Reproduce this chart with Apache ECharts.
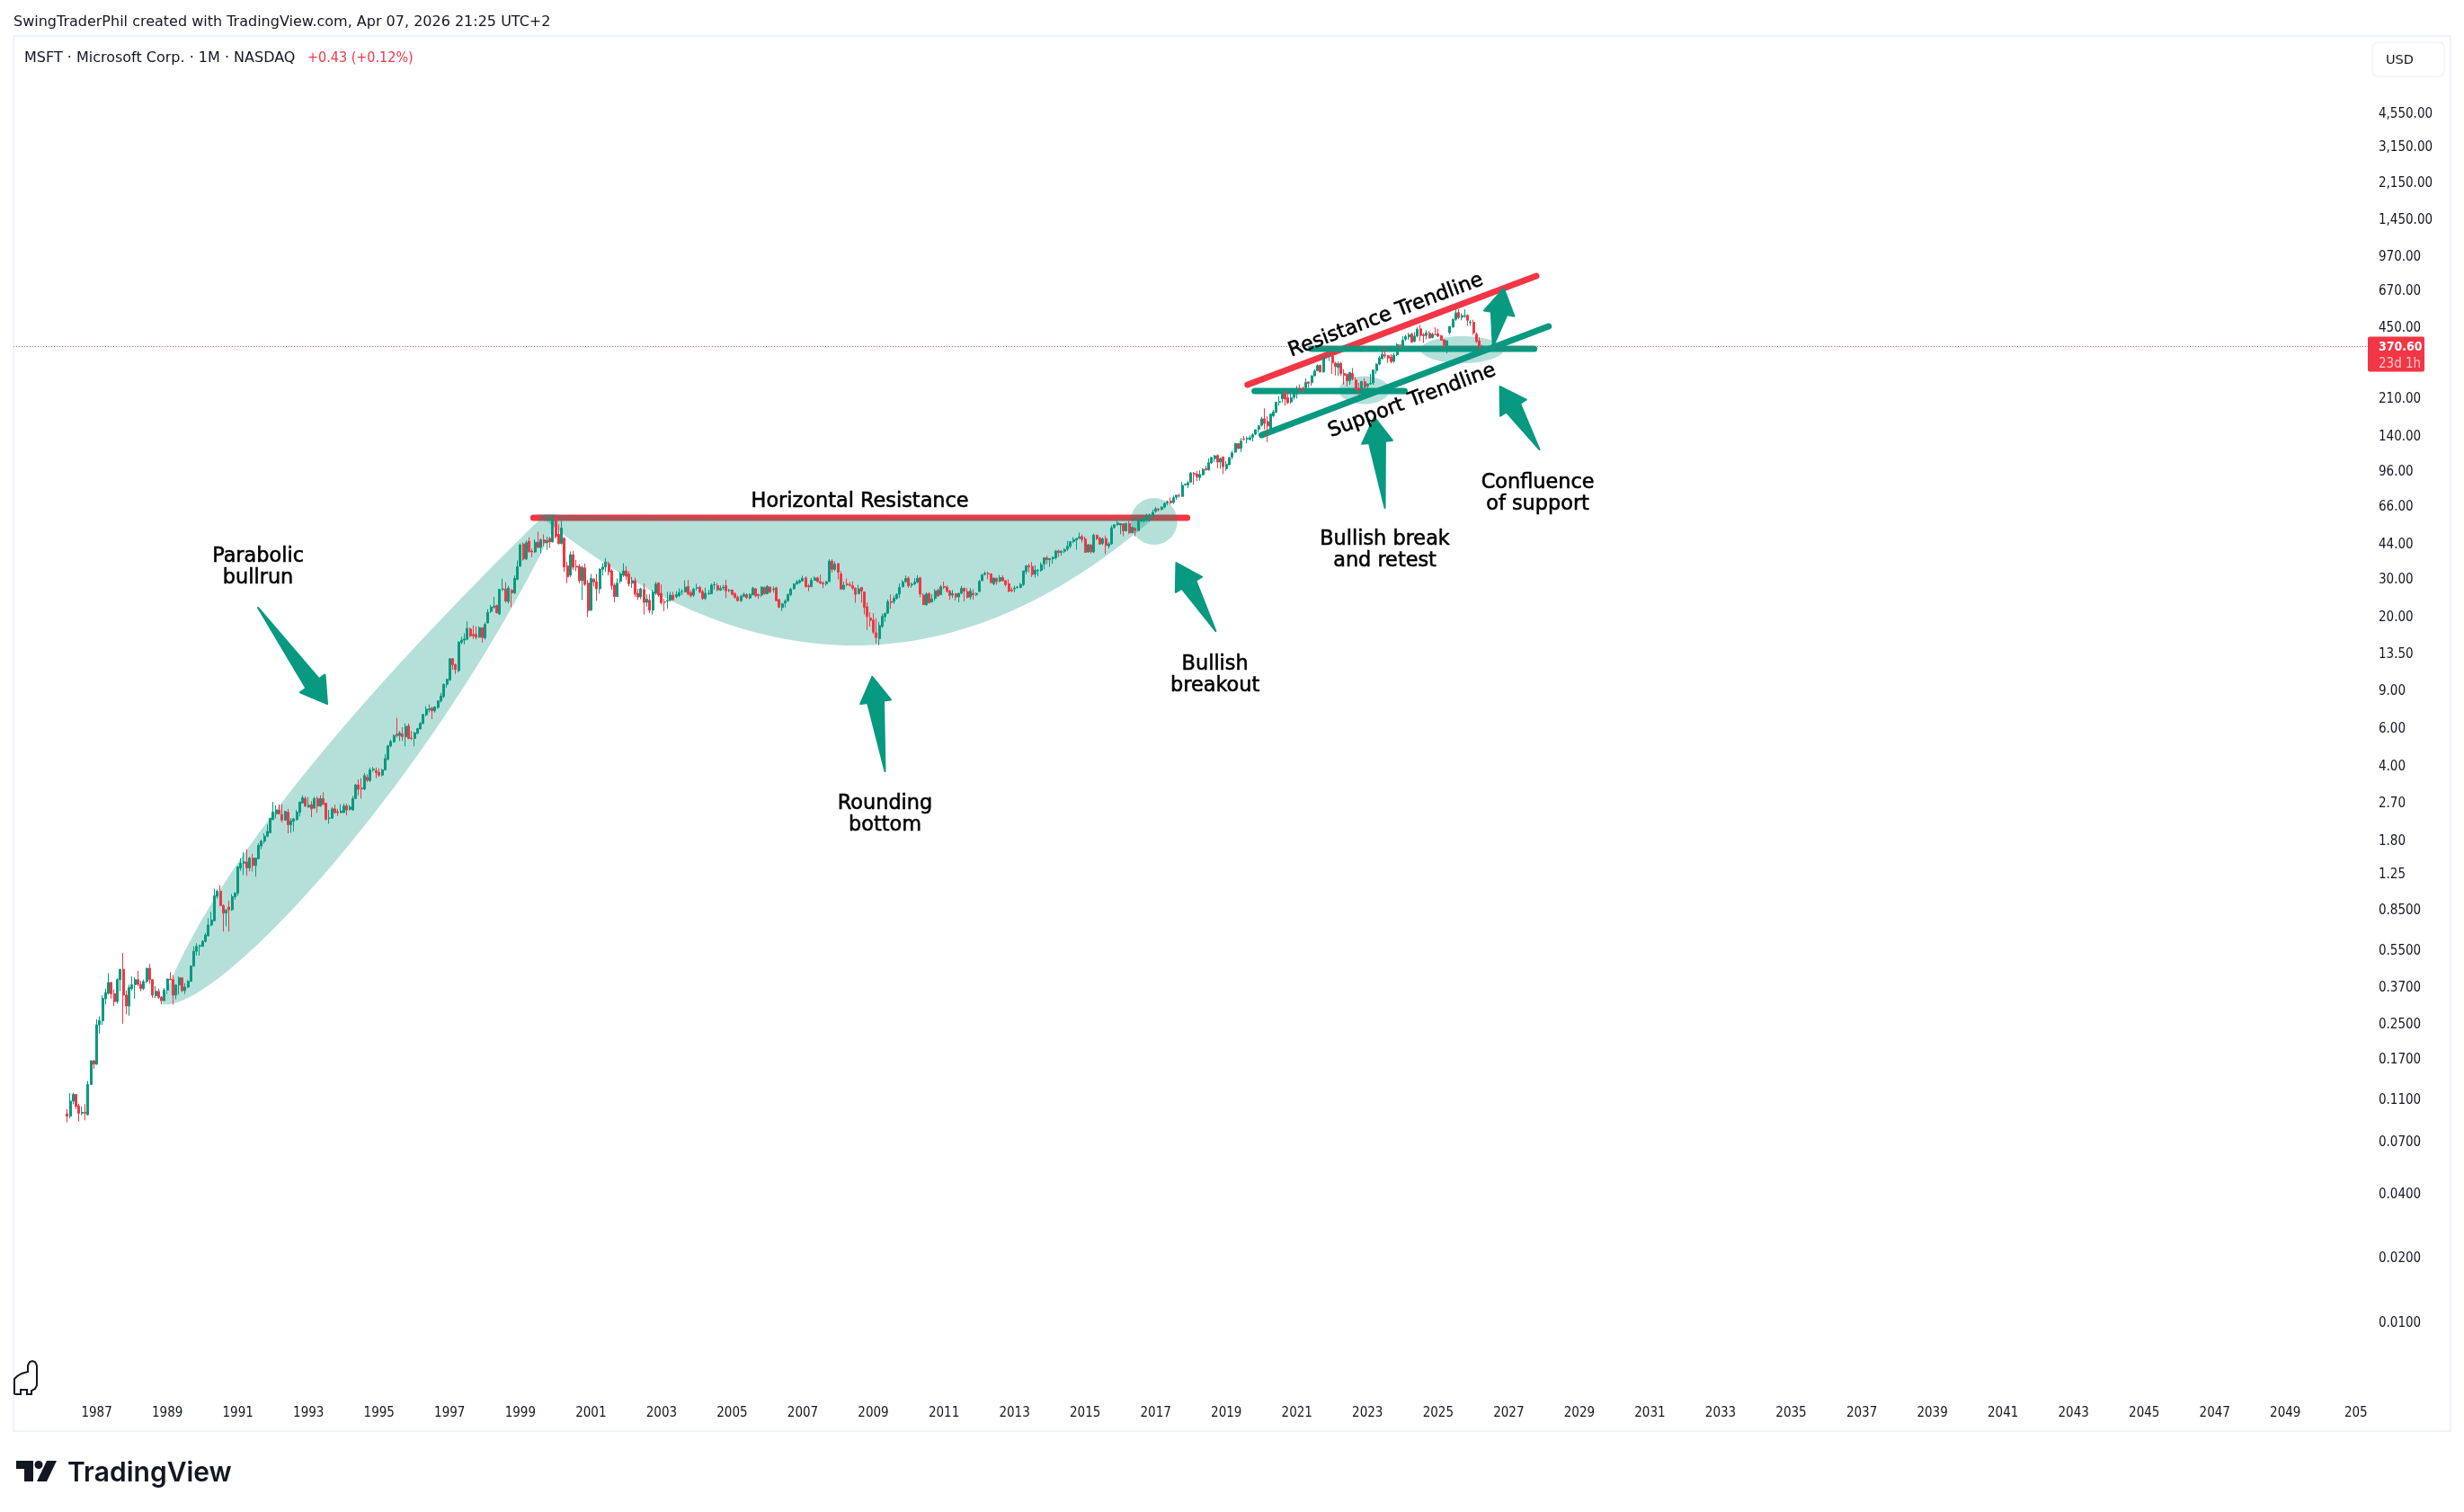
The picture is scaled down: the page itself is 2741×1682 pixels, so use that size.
<!DOCTYPE html>
<html><head><meta charset="utf-8">
<style>html,body{margin:0;padding:0;background:#fff}#c{width:2741px;height:1682px}</style>
<script src="https://cdn.jsdelivr.net/npm/echarts@6/dist/echarts.min.js"></script>
</head><body><div id="c"></div>
<script>
// monthly candles, rows are [open, close, low, high]
const candles1986to1989 = [
[.0955,.093,.087,.1005],[.093,.1095,.091,.1195],[.1095,.1177,.106,.12],[.1177,.1035,.1005,.118],[.104,.096,.088,.1065],[.096,.097,.094,.1035],[.097,.0962,.089,.106],[.0945,.131,.094,.136],[.131,.169,.131,.17],[.169,.163,.155,.171],
[.163,.249,.162,.264],[.249,.261,.226,.273],[.26,.331,.249,.342],[.33,.352,.31,.368],[.35,.393,.345,.435],[.393,.348,.33,.395],[.348,.32,.305,.365],[.32,.405,.313,.412],[.405,.453,.358,.453],[.453,.343,.252,.54],[.343,.305,.279,.36],[.305,.372,.275,.384],
[.368,.384,.36,.42],[.384,.405,.33,.415],[.405,.385,.378,.445],[.385,.368,.358,.4],[.368,.397,.362,.405],[.397,.458,.39,.46],[.458,.405,.388,.48],[.405,.343,.333,.408],[.341,.358,.333,.378],[.357,.335,.33,.368],[.335,.323,.311,.34],[.323,.362,.323,.37],
[.362,.408,.347,.411],[.408,.405,.402,.44],[.405,.343,.31,.425],[.343,.382,.328,.386],[.382,.413,.345,.419],[.413,.36,.353,.416],[.36,.374,.347,.39],[.374,.398,.37,.403],[.398,.47,.396,.472],[.47,.55,.465,.58],[.55,.58,.525,.6],[.58,.585,.525,.59]];
const candles1990to1994 = [
[.58,.612,.58,.62],[.612,.655,.605,.67],[.65,.73,.645,.785],[.73,.77,.72,.84],[.765,1,.76,1.08],[.995,1.05,.97,1.07],[1.05,.9,.895,1.12],[.9,.83,.68,.91],[.83,.855,.72,.87],[.885,.86,.68,.95],[.86,.99,.85,1.02],[.99,1.03,.96,1.04],
[1.03,1.36,1,1.38],[1.35,1.42,1.31,1.5],[1.42,1.44,1.25,1.6],[1.44,1.35,1.24,1.65],[1.35,1.5,1.3,1.52],[1.5,1.385,1.3,1.57],[1.385,1.5,1.23,1.51],[1.49,1.72,1.48,1.76],[1.71,1.8,1.65,1.83],[1.8,1.9,1.75,1.96],[1.9,2,1.88,2.15],[1.97,2.3,1.96,2.32],
[2.27,2.46,2.26,2.75],[2.42,2.52,2.3,2.65],[2.52,2.42,2.4,2.68],[2.4,2.26,2.2,2.68],[2.26,2.48,2.25,2.5],[2.46,2.15,1.96,2.55],[2.15,2.24,1.97,2.31],[2.23,2.29,2,2.31],[2.27,2.46,2.25,2.52],[2.46,2.74,2.35,2.77],[2.72,2.87,2.7,2.95],[2.85,2.63,2.6,2.92],
[2.6,2.65,2.58,2.9],[2.67,2.55,2.33,2.77],[2.57,2.85,2.55,2.9],[2.85,2.63,2.44,2.92],[2.63,2.85,2.61,2.95],[2.85,2.68,2.66,3.05],[2.71,2.28,2.25,2.72],[2.3,2.31,2.17,2.52],[2.31,2.55,2.29,2.6],[2.55,2.45,2.42,2.67],[2.47,2.45,2.36,2.55],[2.45,2.49,2.44,2.68],
[2.45,2.63,2.44,2.7],[2.63,2.52,2.38,2.7],[2.54,2.6,2.5,2.66],[2.52,2.85,2.5,2.93],[2.85,3.3,2.84,3.33],[3.3,3.15,2.95,3.5],[3.19,3.16,2.85,3.55],[3.16,3.65,3.12,3.75],[3.58,3.47,3.4,3.7],[3.46,3.88,3.4,3.98],[3.88,3.92,3.8,4],[3.85,3.76,3.55,3.98]];
const candles1995to1999 = [
[3.78,3.67,3.6,3.95],[3.67,3.88,3.62,3.92],[3.88,4.38,3.85,4.6],[4.35,5.02,4.3,5.08],[5.02,5.27,4.95,5.38],[5.25,5.62,5.2,5.68],[5.7,5.62,5.5,6.8],[5.62,5.78,5.3,5.9],[5.72,5.55,5.3,6.15],[5.55,6.2,5,6.4],[6.22,5.45,5.4,6.4],[5.47,5.45,5.35,5.9],
[5.45,5.78,5,5.85],[5.75,6.05,5.7,6.1],[6.03,6.4,6,6.5],[6.4,7.05,6.35,7.1],[7.03,7.45,6.9,7.7],[7.42,7.5,7.2,7.85],[7.55,7.33,6.7,7.65],[7.33,7.65,7.2,7.7],[7.6,8.15,7.5,8.2],[8.15,8.6,8,8.9],[8.55,9.75,8.4,9.85],[9.75,10.3,9.4,10.35],
[10.25,12.85,10.1,12.9],[12.85,12.05,11.4,12.95],[12.05,11.45,10.9,12.2],[11.3,15.4,11.1,15.45],[15.35,15.7,15,16.3],[15.7,15.9,15,16.9],[15.85,17.8,15.7,19.2],[17.7,16.45,16.2,18],[16.7,16.45,15.9,18.4],[16.7,16.2,15.8,18.2],[16.2,17.95,16.1,18.2],[17.95,16.15,15.3,18],
[16.1,18.6,15.8,19],[18.9,21.2,18.8,21.9],[21.4,22.4,21,22.9],[22.4,22.6,22,25],[22.8,21.1,20.9,23],[20.8,27.1,20.6,27.3],[27.1,27.3,26.6,30.4],[27.2,23.95,23.5,29.3],[23.8,27.5,23.3,28.2],[26.9,26.1,22.4,27.2],[26.1,30.5,25.8,31.5],[30.2,34.6,30,37],
[34.9,43.8,34.5,44.5],[44.2,37.6,37,45],[37.7,44.8,37.2,46],[45.6,40.8,40.2,47.5],[41,40.6,38.4,42],[40.6,45.1,40.2,46.5],[45.1,42.6,42.4,50.5],[42.6,46.2,40,47],[46.2,44.8,43.2,49],[44.8,45.9,41.5,47.9],[47,45.2,42.4,47.9],[45.2,58.4,45,60]];
const candles2000to2006 = [
[59,47.9,47,59.9],[49,44.4,44,54.6],[44.5,52.6,44,57],[47,34.5,32.8,47.5],[35,31,29,36.5],[31.6,39.4,31,40.8],[39.4,34.4,33.5,41],[34.8,34.5,33,37.2],[34.8,29.8,29,35.6],[29.8,34.4,24.2,35],[34.2,28.6,28.2,35.8],[29,21.6,20.1,30],
[21.7,30.5,21.5,32],[30.3,29.4,28,30.6],[29.4,27.3,24,32],[27.3,33.7,25.9,34],[33.7,34.5,31.5,36],[34.5,36.4,32.7,38],[35.7,32.8,31.5,36.6],[33.1,28.3,27,33.8],[28.4,25.1,23.6,29],[25.1,29,25,30.5],[29.6,32,28.9,32.8],[31.6,33.1,31,35.9],
[33.1,31.3,30,34.8],[32,28.8,28,33],[29,29.8,27.6,31],[29.8,25.8,25,30.8],[26,25,24.2,27.3],[25,27.3,24.4,27.6],[27.1,23.6,20.7,28.9],[23.6,24.4,22.5,25.7],[24.1,21.7,21,25.7],[21.7,26.3,20.7,27],[26,28.7,25.5,29.4],[29.1,25.5,25,29.2],
[26,23.5,23,28.6],[23.7,23.6,21.5,24.5],[23.9,24.1,22,26.4],[24.1,25.5,23.8,26.4],[25.5,24.3,24,26.4],[25,25.6,24.7,26.6],[25.4,26.2,25,27.4],[26.4,26.5,25.5,27.2],[26.4,27.8,26.2,29.9],[28,25.8,25.4,30],[26.2,25.3,24.9,26.8],[25.5,27.2,25,27.6],
[27.5,27.6,26.8,28.8],[27.7,26.4,26,28.2],[26.5,24.6,24.2,27],[24.6,26,24.2,27.6],[25.9,26,25.5,27],[25.9,28.4,25.7,28.9],[28.5,28.6,27,29.5],[28.2,27,26.6,29],[26.9,27.4,26.7,28.3],[27.6,27.7,26.9,28.5],[28.2,26.7,24.7,30.1],[26.8,26.9,26.3,27.3],
[26.9,25.7,25.4,27.1],[25.9,24.9,24.5,26.2],[24.9,24,23.9,25.4],[24,25.2,23.7,25.6],[25.2,25.7,24.9,26.2],[25.6,24.8,24.5,26],[24.7,25.7,24.4,26],[25.6,27.5,25.4,27.9],[27.3,25.3,24.9,27.5],[25.7,25.3,24.5,25.9],[25.5,27.8,25,28],[27.7,25.9,25.6,28],
[25.9,28,25.7,28.4],[27.8,26.4,26,28],[27.1,27.3,26.2,28],[27.6,24,23.8,27.9],[24.3,22.4,22.2,24.5],[22.3,23.2,21.5,23.5],[23.4,23.9,22.3,24.4],[24,25.6,23.7,26],[25.6,27.2,25.2,27.6],[27.3,28.7,27,29],[28.7,29.4,28.6,30],[29.2,29.8,28.8,30.2]];
const candles2007to2012 = [
[29.7,30.6,29.5,31.4],[30.7,28,27.6,31.2],[28.2,27.87,26.6,28.75],[27.9,29.94,27.8,30.75],[29.9,30.69,29.9,31.16],[30.7,29.47,29.35,31.1],[29.5,28.99,28.8,31.8],[29,28.73,27.5,29.6],[28.8,29.46,28.2,29.7],[29.5,36.81,29.4,37.5],[36.8,33.6,32.5,37.5],[33.7,35.6,33,36.7],
[35.8,32.6,30.2,35.96],[32,27.2,27,33],[27.2,28.38,26.9,29.5],[28.8,28.52,28,30.5],[28.5,28.32,27.9,29.4],[28.2,27.51,26.9,29.6],[27.5,25.72,23.5,27.7],[25.9,27.29,25.8,28.5],[27.7,26.69,23.5,27.8],[26.4,22.33,20.7,26.4],[22.5,20.22,17.5,23.6],[19.9,19.44,18.2,21.2],
[19.5,17.1,16.75,21],[17,16.15,15.15,19.9],[15.96,18.37,14.87,19.1],[18.2,20.26,17.9,20.9],[20.2,20.89,19.1,21.2],[21,23.77,20.8,24.3],[23.8,23.52,22,25.7],[23.8,24.65,23.2,25.4],[24.6,25.72,24.3,26],[25.8,27.73,24.7,28.9],[27.9,29.41,27.7,30],[29.5,30.48,29.1,31.5],
[30.6,28.18,27.6,31.2],[28.4,28.67,27.6,29.2],[28.8,29.29,28.4,30.6],[29.3,30.54,29,31.6],[30.7,25.8,24.9,31],[25.5,23.01,22.9,26],[23,25.81,22.7,26.3],[25.9,23.47,23.3,26.3],[23.7,24.49,23.5,25.8],[24.6,26.67,24,27.2],[26.9,25.26,25,27.4],[25.6,27.91,25.5,28.4],
[28,27.73,27.2,29.5],[27.8,26.58,26.2,28.3],[26.6,25.39,24.2,27],[25.5,25.92,24.7,26.9],[25.9,25.01,24.1,26],[25,26,23.6,26.1],[26,27.4,25.7,28.2],[27.5,26.6,23.8,27.5],[26.5,24.89,24.6,27.5],[25,26.63,24.3,27.5],[26,25.58,24.3,27.2],[25.6,25.96,25.3,26.2],
[26.5,29.53,26.4,30.05],[29.8,31.74,29.7,32],[31.9,32.25,31.5,32.9],[32.2,32.02,30.3,32.9],[32,29.19,28.9,32.3],[28.8,30.59,28.4,30.9],[30.6,29.47,28.5,30.7],[29.6,30.82,29.2,31.7],[30.8,29.76,29.6,31.6],[29.8,28.54,28,30],[28.8,26.62,26.3,30.2],[26.9,26.71,26.3,27.7]];
const candles2013to2018 = [
[27.25,27.45,26.3,28.2],[27.7,27.8,27.3,28.2],[27.7,28.61,27.5,29.1],[28.6,33.1,28.1,33.1],[32.9,34.9,31.9,35.3],[34.9,34.54,32.6,35.8],[34.75,31.84,31,36.4],[32,33.4,30.8,35.2],[33.2,33.28,31.2,33.8],[33.3,35.4,32.8,36.3],[35.7,38.13,33.7,38.3],[38.1,37.41,35.6,38.98],
[37.35,37.84,34.6,37.9],[37.7,38.31,35.7,38.6],[38.2,40.99,37.4,41.5],[41,40.4,38.5,41.7],[40.4,40.94,39,41.3],[40.9,41.7,40.1,42.3],[41.9,43.16,41,45.7],[43.2,45.43,42.2,45.6],[45.4,46.36,44.6,47.6],[46.3,46.95,41.6,47],[47,47.81,46.7,50.05],[47.9,46.45,44.9,49.1],
[46.7,40.4,40.2,47.9],[40.6,43.85,40.2,44.3],[43.7,40.65,40,44.2],[40.6,48.64,40.1,49.5],[48.6,46.86,46.2,48.9],[47,44.15,43.9,47.8],[44.5,46.7,43.8,47.5],[46.9,43.52,39.7,48.4],[43.3,44.26,42.1,45.2],[44.3,52.64,43.8,54],[52.9,54.35,52.1,54.9],[54.4,55.48,53.7,56.85],
[54.3,55.09,49.1,55.1],[54.9,50.88,48,55.1],[50.97,55.23,50.6,55.6],[55.05,49.87,49.4,56.8],[50,53,49.5,53],[52.4,51.17,48,52.9],[51.1,56.68,51,57.3],[56.6,57.46,56.1,58.5],[57,57.6,55.6,58.7],[57.4,59.92,56.3,61.4],[60,60.26,56.3,61.4],[60.1,62.14,58.8,64.1],
[62.8,64.65,61.9,65.9],[64.4,63.98,62.8,65.2],[64.1,65.86,63.6,66.2],[65.8,68.46,64.9,69.1],[68.7,69.84,67.1,70.7],[70.2,68.93,67.6,72.9],[69.3,72.7,68,74.4],[73.1,74.77,71.3,74.96],[74.7,74.49,72.9,75.97],[73.8,83.18,73.6,86.2],[83.7,84.17,82.8,85.1],[83.6,85.54,80.7,87.5],
[86.1,95.01,85.5,96.1],[94.8,93.77,83.8,96.1],[93.99,91.27,87.1,97.2],[90.5,93.52,87.5,97.9],[93.2,98.84,92.4,99.99],[99.3,98.61,97.3,102.7],[98.1,106.08,97.7,111.2],[106,112.33,104.8,112.8],[111,114.37,107.2,115.3],[114.75,106.81,100.1,116.2],[107,110.89,99.4,112.2],[113,101.57,93.96,113.4]];
const candles2019to2026 = [
[99.6,104.43,97.2,107.9],[103.8,112.03,103.5,113.2],[112.9,117.94,110,120.8],[118.95,130.6,118.1,131.4],[130.5,123.68,123,130.7],[123.85,133.96,119,138.4],[136.6,136.27,134.7,141.7],[137,137.86,130.8,140.9],[136.6,139.03,134.5,142.4],[139.7,143.37,133.2,145.7],[144.3,151.38,142.97,152],[151.8,157.7,146.65,159.6],
[158.8,170.23,156.5,174],[170.4,162.01,152,190.7],[165.3,157.71,132.5,175],[153,179.21,150,180.4],[175.8,183.25,173.8,187.5],[183,203.51,181,204.4],[203.1,205.01,196.3,217.5],[211.5,225.53,203,231.15],[225.5,210.33,196.3,232.9],[213.5,202.47,199.6,225.2],[204.3,214.07,200.1,228],[214.5,222.42,209.1,227.2],
[222.5,231.96,211.9,242.6],[235,232.38,227.9,246.1],[235.9,235.77,224.3,241],[238.5,252.18,238,263.2],[253.4,249.68,238.1,254.4],[251.2,270.9,243,271.65],[270.7,284.91,269.6,290.2],[286.4,301.88,283.9,305.8],[302.9,281.92,281.6,305.3],[282.1,331.62,280.3,332],[331.4,330.59,326.4,349.7],[335.1,336.32,317.3,344.3],
[335.4,310.98,276.1,338],[310.4,298.79,271.5,315.1],[296.4,308.31,270,315.95],[309.4,277.52,270,315.1],[277.7,271.87,246.4,290.9],[275.2,256.83,241.5,277.7],[256.4,280.74,245.9,282],[277.8,261.47,257.7,294.2],[258.9,232.9,232.7,267.5],[235.4,232.13,219.1,251],[234.6,255.14,213.4,255.3],[253.9,239.82,233.9,263.9],
[243.1,247.81,219.35,249.8],[248,249.42,245.6,276.8],[250.8,288.3,245.6,289.3],[286.5,307.26,275.4,308.9],[306.97,328.39,303.4,335.9],[325.9,340.54,322.5,351.5],[339.2,335.92,327,366.8],[336.9,327.76,311.6,338.5],[331.3,315.75,309.5,341.9],[316.3,338.11,311.2,346.2],[339.8,378.91,334.7,384.3],[376.8,376.04,362.9,378.2],
[373.9,397.58,366.5,415.3],[401.8,413.64,393.6,420.8],[411.3,420.72,398.4,430.8],[424,389.33,385,430.8],[392.6,415.13,388,433.6],[415.5,446.95,408.9,456.2],[448.7,418.35,393.6,468.3],[420.8,417.14,385.6,428.5],[417.9,430.3,401.6,441.9],[428,406.35,405.6,438.5],[409,423.46,405.2,430.6],[421.6,421.5,421,456.2],
[425.5,415.06,410.7,449],[416.8,396.99,396.7,420],[398.8,375.39,367.2,402.5],[374.7,395.26,344.8,396.4],[431,460.36,424,462.5],[457,497.41,456.9,500.8],[497,533.5,488.9,555.4],[535,506.69,497.4,555.4],[508,517.95,492.4,530],[515,517.81,505,553.7],[519,492.01,464,525],[480,483.62,464,495],
[482,430.29,421,495],[424,392.7,385,432],[394,370.17,356,410],[370.2,370.6,362,378]];

const xTickValues = [1987,1989,1991,1993,1995,1997,1999,2001,2003,2005,2007,2009,2011,2013,2015,2017,2019,2021,2023,2025,2027,2029,2031,2033,2035,2037,2039,2041,2043,2045,2047,2049,2051];
const xTickLabels = ['1987','1989','1991','1993','1995','1997','1999','2001','2003','2005','2007','2009','2011','2013','2015','2017','2019','2021','2023','2025','2027','2029','2031','2033','2035','2037','2039','2041','2043','2045','2047','2049','205'];
const yTickValues = [4550,3150,2150,1450,970,670,450,210,140,96,66,44,30,20,13.5,9,6,4,2.7,1.8,1.25,.85,.55,.37,.25,.17,.11,.07,.04,.02,.01];
const lastPrice = 370.6;

// drawings, in [year, price]
const trendLines = [
 {from:[1999.37,58.6],to:[2017.89,58.6],color:'#f23645'},
 {from:[2019.60,245.9],to:[2027.78,793.5],color:'#f23645'},
 {from:[2021.41,362.1],to:[2027.72,362.1],color:'#089981'},
 {from:[2019.80,229.8],to:[2024.05,229.8],color:'#089981'},
 {from:[2020.00,142.9],to:[2028.13,461.2],color:'#089981'}];
// curve outlines: bezier anchors (start, controls, end)
const parabolicUpper = [[1988.84,.3114],[1990.63,2.097],[1999.70,60.96]];
const parabolicLower = [[1988.84,.3114],[1990.37,.2743],[1996.49,3.469],[2000,54.81]];
const parabolicTip = [2000,60.96];
const roundingUpper = [[1999.49,60.96],[2002.09,58.07],[2016.95,58.6]];
const roundingLower = [[1999.49,60.96],[2008.57,3.677],[2016.95,58.6]];
const ellipses = [
 {left:2016.29,right:2017.61,top:72.57,bottom:43.87},
 {left:2022.19,right:2023.62,top:269.5,bottom:199.6},
 {left:2024.51,right:2026.85,top:414.6,bottom:310.1}];
const arrows = [
 {tail:[1991.57,22.27],tip:[1993.53,7.9]},
 {tail:[2009.33,3.82],tip:[2008.97,10.57]},
 {tail:[2018.70,17.31],tip:[2017.58,36.13]},
 {tail:[2023.49,65.3],tip:[2023.19,173.4]},
 {tail:[2027.87,122.4],tip:[2026.75,241.1]},
 {tail:[2026.55,370],tip:[2026.86,692.6]}];
const notes = [
 {at:[2008.62,71.1],text:'Horizontal Resistance'},
 {at:[1991.57,35.1],text:'Parabolic\nbullrun'},
 {at:[2018.68,10.97],text:'Bullish\nbreakout'},
 {at:[2009.33,2.45],text:'Rounding\nbottom'},
 {at:[2023.49,42.2],text:'Bullish break\nand retest'},
 {at:[2027.82,77.6],text:'Confluence\nof support'},
 {at:[2023.52,528],text:'Resistance Trendline',angle:20.6},
 {at:[2024.26,210.5],text:'Support Trendline',angle:20.6}];

const candleRows = [].concat(candles1986to1989,candles1990to1994,candles1995to1999,candles2000to2006,candles2007to2012,candles2013to2018,candles2019to2026);
const candleData = candleRows.map((r,i)=>[1986+(2+i)/12,r[0],r[1],r[2],r[3]]);

const GREEN='#089981',RED='#f23645',INK='#131722',SHADE='rgba(8,153,129,0.30)',EDGE='#f0f3fa';
const TICKFONT='"DejaVu Sans Condensed","DejaVu Sans",sans-serif';
const NOTEFONT='"DejaVu Sans",sans-serif';

function bezier(p){ // sample a bezier through pixel anchors
  const out=[];
  for(let k=0;k<=80;k++){let q=p.map(a=>a.slice()),t=k/80;
    while(q.length>1){const n=[];for(let i=0;i<q.length-1;i++)n.push([q[i][0]+(q[i+1][0]-q[i][0])*t,q[i][1]+(q[i+1][1]-q[i][1])*t]);q=n;}
    out.push(q[0]);}
  return out;
}
function drawing(name,rows,z,anchor,draw){
  return {name,type:'custom',coordinateSystem:'cartesian2d',z,clip:false,silent:true,animation:false,
    encode:{x:0,y:1},data:rows.map(anchor),renderItem:(params,api)=>draw(rows[params.dataIndex],api)};
}
const shapes=[{upper:parabolicUpper,lower:parabolicLower,tip:parabolicTip},{upper:roundingUpper,lower:roundingLower}];
function chromeText(x,y,text,font,fill){
  return {type:'text',x,y,silent:true,style:{text,font,fill,align:'left',verticalAlign:'middle',textAlign:'left',textBaseline:'middle'}};
}

const option={
 backgroundColor:'#fff',animation:false,
 grid:{left:15,top:41,width:2618,height:1515,show:false},
 xAxis:{type:'value',min:1984.642,max:2051.31,axisLine:{show:false},axisTick:{show:false},splitLine:{show:false},
   axisLabel:{customValues:xTickValues,color:INK,fontFamily:TICKFONT,fontSize:15,margin:9,
     formatter:v=>xTickLabels[xTickValues.indexOf(Math.round(v))]}},
 yAxis:{type:'log',logBase:10,position:'right',min:0.004437,max:10426,axisLine:{show:false},axisTick:{show:false},splitLine:{show:false},minorTick:{show:false},
   axisLabel:{customValues:yTickValues,color:INK,fontFamily:TICKFONT,fontSize:15,margin:13,padding:[2,0,0,0],
     formatter:v=>{const n=Math.round(v*10000)/10000;return n>=1?n.toLocaleString('en-US',{minimumFractionDigits:2,maximumFractionDigits:2}):n.toFixed(4);}}},
 series:[
  drawing('lines',trendLines,1,r=>r.from,(r,api)=>{const a=api.coord(r.from),b=api.coord(r.to);
    return {type:'line',shape:{x1:a[0],y1:a[1],x2:b[0],y2:b[1]},style:{stroke:r.color,lineWidth:7,lineCap:'round',fill:null}};}),
  drawing('curves',shapes,2,r=>r.upper[0],(r,api)=>{
    const up=bezier(r.upper.map(p=>api.coord(p))),lo=bezier(r.lower.map(p=>api.coord(p))).reverse();
    const mid=r.tip?[api.coord(r.tip)]:[];
    return {type:'polygon',shape:{points:up.concat(mid,lo)},style:{fill:SHADE}};}),
  drawing('ellipses',ellipses,2,r=>[r.left,r.top],(r,api)=>{
    const a=api.coord([r.left,r.top]),b=api.coord([r.right,r.bottom]),cx=(a[0]+b[0])/2,cy=(a[1]+b[1])/2,rx=(b[0]-a[0])/2,ry=(b[1]-a[1])/2,pts=[];
    for(let i=0;i<64;i++){const t=i/64*2*Math.PI;pts.push([cx+rx*Math.cos(t),cy+ry*Math.sin(t)]);}
    return {type:'polygon',shape:{points:pts},style:{fill:SHADE}};}),
  {name:'MSFT',type:'candlestick',z:3,barWidth:2.5,silent:true,clip:true,encode:{x:0,y:[1,2,3,4]},data:candleData,
   itemStyle:{color:GREEN,color0:RED,borderColor:GREEN,borderColor0:RED,borderWidth:1},
   markLine:{silent:true,symbol:'none',animation:false,label:{show:false},
     lineStyle:{color:RED,type:[1,2],width:1,opacity:.85},data:[{yAxis:lastPrice}]}},
  drawing('arrows',arrows,4,r=>r.tip,(r,api)=>{
    const s=api.coord(r.tail),e=api.coord(r.tip),dx=e[0]-s[0],dy=e[1]-s[1],L=Math.hypot(dx,dy),ux=dx/L,uy=dy/L,nx=-uy,ny=ux;
    const at=(back,side)=>[e[0]-ux*back+nx*side,e[1]-uy*back+ny*side];
    return {type:'polygon',shape:{points:[s,at(28,9),at(28,17),e,at(28,-17),at(28,-9)]},style:{fill:GREEN,stroke:GREEN,lineWidth:2,lineJoin:'round'}};}),
  drawing('notes',notes,5,r=>r.at,(r,api)=>{const p=api.coord(r.at);
    return {type:'text',x:p[0],y:p[1]+2,rotation:(r.angle||0)*Math.PI/180,
      style:{text:r.text,font:'22.4px '+NOTEFONT,fill:'#000',stroke:'#000',lineWidth:.55,align:'center',verticalAlign:'middle',textAlign:'center',textBaseline:'middle',lineHeight:24.5}};}),
  drawing('lastTag',[{price:lastPrice}],6,r=>[2051.31,r.price],(r,api)=>{const p=api.coord([2051.31,r.price]);
    return {type:'group',children:[
      {type:'rect',shape:{x:p[0]+1,y:p[1]-11,width:63,height:39,r:2},style:{fill:RED}},
      {type:'text',x:p[0]+13,y:p[1]+1,style:{text:'370.60',font:'bold 14px '+TICKFONT,fill:'#fff',align:'left',verticalAlign:'middle',textAlign:'left',textBaseline:'middle'}},
      {type:'text',x:p[0]+13,y:p[1]+19,style:{text:'23d 1h',font:'15px '+TICKFONT,fill:'rgba(255,255,255,.72)',align:'left',verticalAlign:'middle',textAlign:'left',textBaseline:'middle'}}]};})
 ],
 graphic:[
  {type:'rect',z:-1,silent:true,shape:{x:15,y:40,width:2711,height:1552},style:{fill:'none',stroke:EDGE,lineWidth:2}},
  chromeText(15,24.5,'SwingTraderPhil created with TradingView.com, Apr 07, 2026 21:25 UTC+2','16px "DejaVu Sans",sans-serif',INK),
  chromeText(27,64.5,'MSFT · Microsoft Corp. · 1M · NASDAQ','16px "DejaVu Sans",sans-serif',INK),
  chromeText(342,64.5,'+0.43 (+0.12%)','16px '+TICKFONT,RED),
  {type:'rect',silent:true,shape:{x:2639,y:47,width:80,height:38,r:6},style:{fill:'#fff',stroke:EDGE,lineWidth:1.5}},
  chromeText(2654,67,'USD','14.5px "DejaVu Sans",sans-serif',INK),
  {type:'polyline',silent:true,shape:{points:[[16,1551],[16,1534],[19,1531],[24,1528],[31,1526],[31,1519],[33,1515],[36,1514],[39,1515],[41,1519],[41,1541],[39,1545],[35,1547],[35,1551],[30,1551],[30,1546],[23,1546],[23,1551],[16,1551]]},style:{fill:'none',stroke:'#131722',lineWidth:2}},
  {type:'polygon',silent:true,shape:{points:[[18,1625],[37,1625],[37,1648],[27,1648],[27,1634],[18,1634]]},style:{fill:'#131722'}},
  {type:'circle',silent:true,shape:{cx:43,cy:1629.5,r:4.5},style:{fill:'#131722'}},
  {type:'polygon',silent:true,shape:{points:[[52,1625],[63,1625],[52,1648],[41,1648]]},style:{fill:'#131722'}},
  chromeText(75,1638.5,'TradingView','600 30px Inter,sans-serif','#131722')
 ]
};
echarts.init(document.getElementById('c'),null,{renderer:'canvas'}).setOption(option);
</script></body></html>
